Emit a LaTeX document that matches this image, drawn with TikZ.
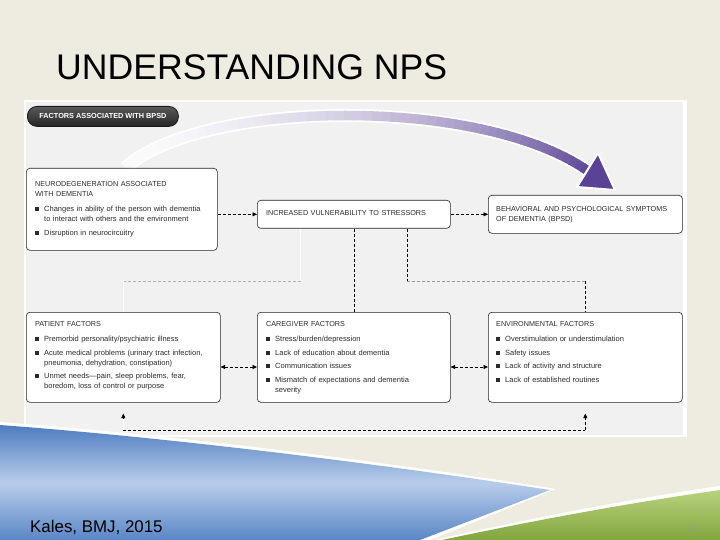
\documentclass[tikz,border=0pt]{standalone}
\usepackage{fontspec}
\setmainfont{Liberation Sans}
\usetikzlibrary{arrows.meta,calc}
\definecolor{bg}{HTML}{EEEBE0}
\definecolor{panel}{HTML}{F0F1F0}
\definecolor{purp}{HTML}{5A4396}
\definecolor{txtc}{HTML}{2B2B2B}
\definecolor{blueA}{HTML}{4E7CC0}
\definecolor{blueB}{HTML}{B8CDEA}
\definecolor{blueC}{HTML}{5A86C6}
\definecolor{grnA}{HTML}{B9D27E}
\definecolor{grnB}{HTML}{82A63E}
\newcommand{\hd}[1]{{\fontsize{7.2}{10}\selectfont #1}}
\newcommand{\bitem}[1]{\par\vspace{3.5pt}\noindent\hangindent=9pt\hangafter=1\makebox[9pt][l]{\raisebox{0.6pt}{\rule{3.8pt}{3.8pt}}}#1}
\begin{document}
\begin{tikzpicture}[x=1pt,y=-1pt,
  box/.style={draw=black!85, line width=0.6pt, fill=white, rounded corners=3.5pt, anchor=north west, inner sep=0pt},
  txt/.style={anchor=north west, inner sep=0pt, text=txtc, font=\fontsize{7.5}{10}\selectfont},
  dashln/.style={draw=black, line width=0.6pt, dash pattern=on 3pt off 2pt},
  grayln/.style={draw=black!40, line width=0.6pt, dash pattern=on 3pt off 2pt},
  ghostln/.style={draw=white, line width=1.2pt},
  dar/.style={dashln, -{Triangle[length=4.5pt,width=4pt]}},
  ddar/.style={dashln, {Triangle[length=4.5pt,width=4pt]}-{Triangle[length=4.5pt,width=4pt]}},
  headonly/.style={draw=black, line width=0.6pt, -{Triangle[length=4.5pt,width=4pt]}},
]
\useasboundingbox (0,0) rectangle (720,540);
\fill[bg] (0,0) rectangle (720,540);
% panel
\fill[white] (24,100) rectangle (687,437);
\fill[panel] (26,102) rectangle (683,435);

% title
\node[anchor=base west, inner sep=0pt, font=\fontsize{35.6}{40}\selectfont, text=black] (title) at (56,80) {UNDERSTANDING NPS};

% pill
\node[anchor=north west, minimum width=151pt, minimum height=20pt, inner sep=0pt, rounded corners=9.5pt,
  draw=black!90, line width=0.8pt, top color=black!65, bottom color=black!85,
  text=white, font=\bfseries\fontsize{7.3}{8}\selectfont] (pill) at (27,106) {FACTORS ASSOCIATED WITH BPSD};

% curved purple arrow
\coordinate (arcS) at (125,168);
\coordinate (arcE) at (588,171);
\foreach \i in {0,...,59}{
  \pgfmathsetmacro\ta{\i/60}
  \pgfmathsetmacro\tb{(\i+1.15)/60}
  \pgfmathsetmacro\xa{(1-\ta)^3*125+3*(1-\ta)^2*\ta*200+3*(1-\ta)*\ta^2*480+\ta^3*588}
  \pgfmathsetmacro\ya{(1-\ta)^3*168+3*(1-\ta)^2*\ta*100+3*(1-\ta)*\ta^2*95+\ta^3*171}
  \pgfmathsetmacro\xb{(1-\tb)^3*125+3*(1-\tb)^2*\tb*200+3*(1-\tb)*\tb^2*480+\tb^3*588}
  \pgfmathsetmacro\yb{(1-\tb)^3*168+3*(1-\tb)^2*\tb*100+3*(1-\tb)*\tb^2*95+\tb^3*171}
  \draw[white, line width=13pt] (\xa,\ya) -- (\xb,\yb);
}
\foreach \i in {0,...,59}{
  \pgfmathsetmacro\ta{\i/60}
  \pgfmathsetmacro\tb{(\i+1.15)/60}
  \pgfmathsetmacro\xa{(1-\ta)^3*125+3*(1-\ta)^2*\ta*200+3*(1-\ta)*\ta^2*480+\ta^3*588}
  \pgfmathsetmacro\ya{(1-\ta)^3*168+3*(1-\ta)^2*\ta*100+3*(1-\ta)*\ta^2*95+\ta^3*171}
  \pgfmathsetmacro\xb{(1-\tb)^3*125+3*(1-\tb)^2*\tb*200+3*(1-\tb)*\tb^2*480+\tb^3*588}
  \pgfmathsetmacro\yb{(1-\tb)^3*168+3*(1-\tb)^2*\tb*100+3*(1-\tb)*\tb^2*95+\tb^3*171}
  \pgfmathtruncatemacro\pc{3+97*\ta*\ta}
  \draw[purp!\pc!white, line width=9.5pt] (\xa,\ya) -- (\xb,\yb);
}
\filldraw[fill=purp, draw=white, line width=2pt, line join=round] (577,187) -- (598,153) -- (615,190) -- cycle;

% boxes
\node[box, minimum width=191pt, minimum height=82pt] (neuro) at (26,168) {};
\node[box, minimum width=193pt, minimum height=28pt] (vuln) at (257,200) {};
\node[box, minimum width=194pt, minimum height=38pt] (bpsd) at (488,195) {};
\node[box, minimum width=194pt, minimum height=90pt] (patient) at (26,312) {};
\node[box, minimum width=193pt, minimum height=90pt] (caregiver) at (257,312) {};
\node[box, minimum width=194pt, minimum height=90pt] (env) at (488,312) {};

% texts
\node[txt, text width=185pt] (neurotxt) at (35,181) {\hd{NEURODEGENERATION ASSOCIATED\newline WITH DEMENTIA}\par\vspace{2pt}
  \bitem{Changes in ability of the person with dementia\newline to interact with others and the environment}
  \bitem{Disruption in neurocircuitry}\par};
\node[txt, text width=180pt] (vulntxt) at (266,210) {\hd{INCREASED VULNERABILITY TO STRESSORS}};
\node[txt, text width=185pt] (bpsdtxt) at (496,206) {\hd{BEHAVIORAL AND PSYCHOLOGICAL SYMPTOMS\newline OF DEMENTIA (BPSD)}};
\node[txt, text width=185pt] (pattxt) at (35,321) {\hd{PATIENT FACTORS}\par\vspace{2pt}
  \bitem{Premorbid personality/psychiatric illness}
  \bitem{Acute medical problems (urinary tract infection,\newline pneumonia, dehydration, constipation)}
  \bitem{Unmet needs—pain, sleep problems, fear,\newline boredom, loss of control or purpose}\par};
\node[txt, text width=185pt] (caretxt) at (266,321) {\hd{CAREGIVER FACTORS}\par\vspace{2pt}
  \bitem{Stress/burden/depression}
  \bitem{Lack of education about dementia}
  \bitem{Communication issues}
  \bitem{Mismatch of expectations and dementia\newline severity}\par};
\node[txt, text width=185pt] (envtxt) at (496,321) {\hd{ENVIRONMENTAL FACTORS}\par\vspace{2pt}
  \bitem{Overstimulation or understimulation}
  \bitem{Safety issues}
  \bitem{Lack of activity and structure}
  \bitem{Lack of established routines}\par};

% connectors
\coordinate (rowy) at (0,367);
\coordinate (midy) at (0,281);
\coordinate (boty) at (0,430);
\draw[dar] (neuro.east |- vuln.west) -- (vuln.west);
\draw[dar] (vuln.east) -- (bpsd.west |- vuln.east);
\draw[ddar] (patient.east |- rowy) -- (caregiver.west |- rowy);
\draw[ddar] (caregiver.east |- rowy) -- (env.west |- rowy);
\draw[dashln] (vuln.south) -- (caregiver.north);
% right branch
\coordinate (vbR) at ($(vuln.south)+(53,0)$);
\coordinate (hR) at (env.north |- midy);
\draw[dashln] (vbR) -- (vbR |- midy);
\draw[grayln] (vbR |- midy) -- (hR);
\draw[dashln] (hR) -- (env.north);
% left branch (faded)
\coordinate (vbL) at ($(vuln.south)+(-53,0)$);
\coordinate (hL) at (patient.north |- midy);
\draw[ghostln] (vbL) -- (vbL |- midy);
\draw[grayln, draw=black!30] (vbL |- midy) -- (hL);
\draw[ghostln] (hL) -- (patient.north);
% bottom feedback line
\coordinate (bl) at (patient.south |- boty);
\coordinate (br) at (env.south |- boty);
\coordinate (tipL) at ($(patient.south)+(0,11)$);
\coordinate (tipR) at ($(env.south)+(0,11)$);
\draw[dashln] (bl) -- (br);
\draw[dar] (br) -- (tipR);
\draw[ghostln] (bl) -- (tipL);
\draw[headonly] ($(tipL)+(0,5)$) -- (tipL);

% bottom decoration
\fill[white] (0,422) .. controls (200,437) and (420,467) .. (556,489) -- (430,540) -- (0,540) -- cycle;
\shade[top color=blueA, bottom color=blueC, middle color=blueB]
  (0,425) .. controls (200,440) and (420,470) .. (550,490) -- (420,540) -- (0,540) -- cycle;
\fill[white] (434,540) .. controls (560,512) and (650,496) .. (720,486) -- (720,540) -- cycle;
\shade[top color=grnA, bottom color=grnB]
  (442,540) .. controls (560,515) and (650,500) .. (720,490) -- (720,540) -- cycle;
\node[anchor=base west, inner sep=0pt, font=\fontsize{16.9}{20}\selectfont, text=black] (cite) at (30,532) {Kales, BMJ, 2015};
\node[anchor=base west, inner sep=0pt, font=\fontsize{8.5}{10}\selectfont, text=black!40] (pgno) at (688,531) {11};
\end{tikzpicture}
\end{document}
